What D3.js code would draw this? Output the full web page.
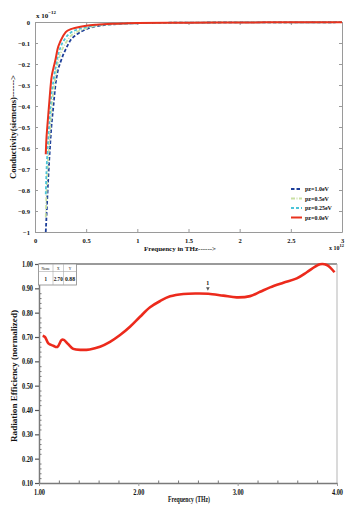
<!DOCTYPE html>
<html><head><meta charset="utf-8">
<script src="https://cdn.jsdelivr.net/npm/d3@7"></script>
<style>
body{margin:0;background:#fff}
svg{display:block}
text{font-family:"Liberation Serif","Times New Roman",serif;font-weight:bold;fill:#111}
</style>
</head><body>
<svg id="c" width="357" height="515"></svg>
<script>
// ---------- Top chart data (frequency x10^12, conductivity x10^-12) ----------
const freq = [0.105,0.11,0.12,0.13,0.14,0.15,0.16,0.18,0.2,0.22,0.25,0.3,0.35,0.4,0.5,0.6,0.8,1.0,1.5,2.0,2.5,3.0];
const sigma10  = [-1.0,-0.95,-0.84,-0.74,-0.65,-0.57,-0.5,-0.4,-0.3,-0.24,-0.19,-0.13,-0.085,-0.062,-0.035,-0.02,-0.01,-0.006,-0.003,-0.002,-0.0015,-0.001];
const sigma05  = [-0.93,-0.85,-0.73,-0.64,-0.56,-0.49,-0.42,-0.33,-0.26,-0.2,-0.15,-0.1,-0.066,-0.05,-0.03,-0.018,-0.0095,-0.006,-0.003,-0.002,-0.0015,-0.001];
const sigma025 = [-0.82,-0.74,-0.63,-0.55,-0.48,-0.41,-0.35,-0.28,-0.22,-0.17,-0.12,-0.075,-0.05,-0.038,-0.024,-0.016,-0.009,-0.0055,-0.003,-0.002,-0.0015,-0.001];
const sigma00  = [-0.63,-0.57,-0.5,-0.44,-0.38,-0.32,-0.27,-0.22,-0.18,-0.13,-0.09,-0.048,-0.034,-0.027,-0.018,-0.013,-0.008,-0.005,-0.003,-0.002,-0.0015,-0.001];
const seriesNames = ["pz=1.0eV","pz=0.5eV","pz=0.25eV","pz=0.0eV"];
const seriesColors = ["#1d3f9a","#c9e0a4","#4cc4d8","#e8321e"];
const seriesDash = ["3.5,2","4,1.5,1,1.5","3,2","none"];
const topXTicks = [0,0.5,1,1.5,2,2.5,3];
const topYTicks = [-1,-0.9,-0.8,-0.7,-0.6,-0.5,-0.4,-0.3,-0.2,-0.1,0];

// ---------- Bottom chart data ----------
const effFreq = [1.037,1.06,1.094,1.144,1.184,1.228,1.25,1.295,1.345,1.43,1.51,1.614,1.715,1.816,1.916,2.017,2.118,2.22,2.32,2.453,2.588,2.705,2.856,2.99,3.125,3.226,3.326,3.46,3.595,3.696,3.78,3.83,3.897,3.94,3.975];
const effVal  = [0.705,0.70,0.674,0.664,0.659,0.688,0.688,0.67,0.651,0.647,0.649,0.66,0.68,0.708,0.742,0.783,0.822,0.848,0.867,0.877,0.879,0.878,0.87,0.863,0.868,0.886,0.904,0.923,0.941,0.966,0.989,0.999,0.996,0.982,0.966];
const botXTicks = [1,2,3,4];
const botYTicks = [0.1,0.2,0.3,0.4,0.5,0.6,0.7,0.8,0.9,1.0];
const markerCols = ["Name","X","Y"];
const markerRow = ["1","2.70","0.88"];
const markerPoint = {x:2.70, y:0.88, name:"1"};

const svg = d3.select("#c");
const frameCol = "#9a9a9a";

// ================= TOP CHART =================
const xT = d3.scaleLinear().domain([0,3]).range([35,342]);
const yT = d3.scaleLinear().domain([-1,0]).range([232,22]);
const gT = svg.append("g");

gT.append("defs").append("clipPath").attr("id","clipT")
  .append("rect").attr("x",35).attr("y",21).attr("width",307).attr("height",212);

function styleAxis(g, fs){
  g.selectAll(".domain").attr("stroke",frameCol);
  g.selectAll(".tick line").attr("stroke",frameCol);
  g.selectAll(".tick text").style("font-size",fs+"px").attr("fill","#111");
}
const fmtT = d => d3.format("")(+d.toFixed(2));
gT.append("g").attr("transform","translate(0,232)")
  .call(d3.axisBottom(xT).tickValues(topXTicks).tickFormat(fmtT).tickSizeInner(-3).tickSizeOuter(0).tickPadding(6))
  .call(g=>styleAxis(g,6.5));
gT.append("g").attr("transform","translate(35,0)")
  .call(d3.axisLeft(yT).tickValues(topYTicks).tickFormat(fmtT).tickSizeInner(-3).tickSizeOuter(0).tickPadding(5))
  .call(g=>styleAxis(g,6.5));
gT.append("g").attr("transform","translate(0,22)")
  .call(d3.axisTop(xT).tickValues(topXTicks).tickFormat("").tickSizeInner(-3).tickSizeOuter(0))
  .call(g=>styleAxis(g,6));
gT.append("g").attr("transform","translate(342,0)")
  .call(d3.axisRight(yT).tickValues(topYTicks).tickFormat("").tickSizeInner(-3).tickSizeOuter(0))
  .call(g=>styleAxis(g,6));

const sigmaSeries = [sigma10, sigma05, sigma025, sigma00];
const lineT = d3.line().x(d=>xT(d[0])).y(d=>yT(d[1])).curve(d3.curveMonotoneX);
const curvesG = gT.append("g").attr("clip-path","url(#clipT)");
sigmaSeries.forEach((s,i)=>{
  curvesG.append("path")
    .datum(freq.map((f,j)=>[f,s[j]]))
    .attr("fill","none")
    .attr("stroke",seriesColors[i])
    .attr("stroke-width",i===3?2:1.8)
    .attr("stroke-dasharray",seriesDash[i]);
});
curvesG.selectAll("path").attr("d",lineT);

// top multipliers
const m1 = gT.append("text").attr("x",36).attr("y",18).style("font-size","7px");
m1.append("tspan").text("x 10");
m1.append("tspan").attr("dy",-4).style("font-size","5px").text("−12");
const m2 = gT.append("text").attr("x",329).attr("y",250).style("font-size","6px");
m2.append("tspan").text("x 10");
m2.append("tspan").attr("dy",-3).style("font-size","4.5px").text("12");

// axis titles
gT.append("text").attr("x",180).attr("y",251).attr("text-anchor","middle")
  .style("font-size","7px").text("Frequency in THz------>");
gT.append("text").attr("transform","translate(16,127) rotate(-90)").attr("text-anchor","middle")
  .style("font-size","7.5px").attr("textLength",104).attr("lengthAdjust","spacingAndGlyphs")
  .text("Conductivity(siemens)------>");

// legend
const legT = gT.append("g");
seriesNames.forEach((n,i)=>{
  const yy = [189,198.5,208,217.5][i];
  legT.append("line").attr("x1",291).attr("x2",302).attr("y1",yy).attr("y2",yy)
    .attr("stroke",seriesColors[i]).attr("stroke-width",i===3?2:1.8).attr("stroke-dasharray",seriesDash[i]);
  legT.append("text").attr("x",305).attr("y",yy+2).style("font-size","6px").text(n);
});

// ================= BOTTOM CHART =================
const xB = d3.scaleLinear().domain([1,4]).range([39,337]);
const yB = d3.scaleLinear().domain([0.1,1.0]).range([483,264]);
const gB = svg.append("g");
gB.append("defs").append("clipPath").attr("id","clipB")
  .append("rect").attr("x",39).attr("y",262).attr("width",298).attr("height",221);

// frame top and right
gB.append("line").attr("x1",xB(1)).attr("x2",xB(4)).attr("y1",yB(1)).attr("y2",yB(1)).attr("stroke",frameCol).attr("stroke-width",2);
gB.append("line").attr("x1",xB(4)).attr("x2",xB(4)).attr("y1",yB(1)).attr("y2",yB(0.1)).attr("stroke","#b5b5b5").attr("stroke-width",1);

// minor ticks
const minorX = d3.range(1.2,4.0,0.2).filter(v=>Math.abs(v-Math.round(v))>1e-6);
const minorY = d3.range(0.12,1.0,0.02).filter(v=>Math.abs(v*10-Math.round(v*10))>1e-6);
gB.append("g").attr("transform","translate(0,483)")
  .call(d3.axisBottom(xB).tickValues(minorX).tickFormat("").tickSizeInner(-2.5).tickSizeOuter(0))
  .call(g=>{g.select(".domain").remove(); g.selectAll(".tick line").attr("stroke","#777");});
gB.append("g").attr("transform","translate(39,0)")
  .call(d3.axisLeft(yB).tickValues(minorY).tickFormat("").tickSizeInner(-2.5).tickSizeOuter(0))
  .call(g=>{g.select(".domain").remove(); g.selectAll(".tick line").attr("stroke","#777");});

const fmtB = d3.format(".2f");
gB.append("g").attr("transform","translate(0,483)")
  .call(d3.axisBottom(xB).tickValues(botXTicks).tickFormat(fmtB).tickSizeInner(3).tickSizeOuter(0).tickPadding(3))
  .call(g=>{styleAxis(g,8); g.select(".domain").attr("stroke","#7a7a7a").attr("stroke-width",1.5);
    g.selectAll(".tick text").attr("textLength",11).attr("lengthAdjust","spacingAndGlyphs");});
gB.append("g").attr("transform","translate(39,0)")
  .call(d3.axisLeft(yB).tickValues(botYTicks).tickFormat(fmtB).tickSizeInner(4).tickSizeOuter(0).tickPadding(2))
  .call(g=>{styleAxis(g,8); g.select(".domain").attr("stroke","#7a7a7a").attr("stroke-width",1.5);
    g.selectAll(".tick line").attr("stroke","#555").attr("stroke-width",1.2);
    g.selectAll(".tick text").attr("textLength",11).attr("lengthAdjust","spacingAndGlyphs");});

// curve
const lineB = d3.line().x(d=>xB(d[0])).y(d=>yB(d[1])).curve(d3.curveCatmullRom);
gB.append("g").attr("clip-path","url(#clipB)").append("path")
  .datum(effFreq.map((f,i)=>[f,effVal[i]]))
  .attr("d",lineB).attr("fill","none").attr("stroke","#ec2a1c").attr("stroke-width",2.6);

// marker
const mx = xB(markerPoint.x), my = yB(markerPoint.y);
gB.append("path").attr("d",`M${mx-1.8},${my-6}L${mx+1.8},${my-6}L${mx},${my-2.5}Z`).attr("fill","#555");
gB.append("text").attr("x",mx).attr("y",my-8).attr("text-anchor","middle").style("font-size","6px").text(markerPoint.name);

// marker table
const colX = [38.5,53,63.5,76.5];
const colTextLen = [2.5,9,10];
const tab = gB.append("g");
tab.append("rect").attr("x",colX[0]).attr("y",264).attr("width",colX[3]-colX[0]).attr("height",21)
  .attr("fill","#fff").attr("stroke","#888").attr("stroke-width",0.8);
tab.append("line").attr("x1",colX[0]).attr("x2",colX[3]).attr("y1",271.5).attr("y2",271.5).attr("stroke","#aaa").attr("stroke-width",0.6);
[1,2].forEach(i=>tab.append("line").attr("x1",colX[i]).attr("x2",colX[i]).attr("y1",264).attr("y2",285).attr("stroke","#aaa").attr("stroke-width",0.6));
markerCols.forEach((c,i)=>tab.append("text").attr("x",(colX[i]+colX[i+1])/2).attr("y",269.5).attr("text-anchor","middle").style("font-size","3.5px").style("font-weight","normal").text(c));
markerRow.forEach((c,i)=>tab.append("text").attr("x",(colX[i]+colX[i+1])/2).attr("y",281).attr("text-anchor","middle").style("font-size","6.5px")
  .attr("textLength",colTextLen[i]).attr("lengthAdjust","spacingAndGlyphs").text(c));

// axis titles
gB.append("text").attr("x",189).attr("y",502).attr("text-anchor","middle")
  .style("font-size","8px").attr("textLength",42).attr("lengthAdjust","spacingAndGlyphs").text("Frequency (THz)");
gB.append("text").attr("transform","translate(17,376) rotate(-90)").attr("text-anchor","middle")
  .style("font-size","8px").attr("textLength",132).attr("lengthAdjust","spacingAndGlyphs")
  .text("Radiation Efficiency (normalized)");
</script>
</body></html>
